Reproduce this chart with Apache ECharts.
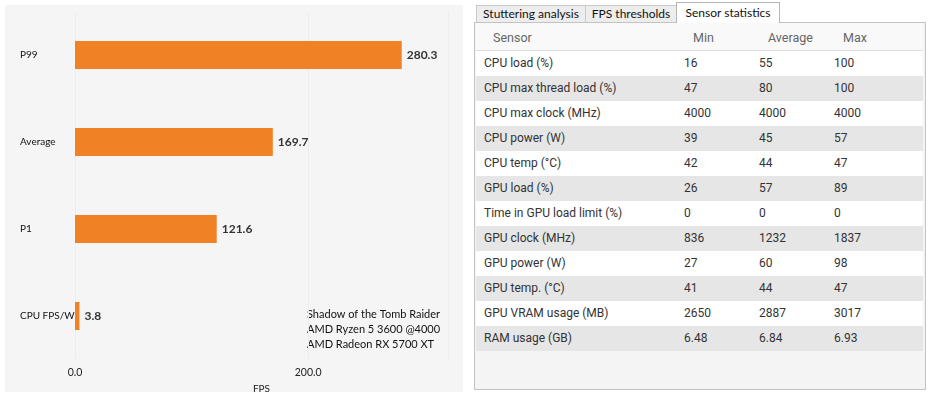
<!DOCTYPE html>
<html>
<head>
<meta charset="utf-8">
<script src="https://cdn.jsdelivr.net/npm/echarts@6/dist/echarts.min.js"></script>
<style>
    body { margin: 0; background: #fff; width: 930px; height: 396px; position: relative; overflow: hidden; }
    #bars { position: absolute; left: 5px; top: 5px; width: 458px; height: 387px; }
    .tab { position: absolute; box-sizing: border-box; border: 1px solid #c9c9c9; border-bottom: none;
           background: #ededed; font: 12px Lato, sans-serif; color: #111; text-align: center; line-height: 16px; }
    .tab.on { background: #fff; border-color: #b5b5b5; z-index: 2; }
    #panel { position: absolute; left: 474px; top: 22px; width: 452px; height: 368px; box-sizing: border-box;
             border: 1px solid #c3c3c3; background: #f4f4f4; font: 12px Roboto, sans-serif; color: #333; }
    .row { position: absolute; left: 1px; width: 447px; height: 25px; line-height: 25px; }
    .row span { position: absolute; top: 0; white-space: nowrap; }
    .hdr { top: 0; height: 27px; line-height: 29px; background: #f9f9f9; border-bottom: 1px solid #dcdcdc; color: #666; font-size: 12.5px; }
</style>
</head>
<body>
<div id="bars"></div>
<div class="tab" style="left:476px;top:5px;width:110px;height:17px;">Stuttering analysis</div>
<div class="tab" style="left:585px;top:5px;width:92px;height:17px;">FPS thresholds</div>
<div class="tab on" style="left:676px;top:2px;width:104px;height:21px;line-height:20px;">Sensor statistics</div>
<div id="panel"></div>
<script>
// bar chart
var metrics = ['P99', 'Average', 'P1', 'CPU FPS/W'];
var fpsValues = [280.3, 169.7, 121.6, 3.8];
var infoLines = ['Shadow of the Tomb Raider', 'AMD Ryzen 5 3600 @4000', 'AMD Radeon RX 5700 XT'];

// sensor table
var tableHeader = ['Sensor', 'Min', 'Average', 'Max'];
var sensors = ['CPU load (%)', 'CPU max thread load (%)', 'CPU max clock (MHz)', 'CPU power (W)',
    'CPU temp (°C)', 'GPU load (%)', 'Time in GPU load limit (%)', 'GPU clock (MHz)',
    'GPU power (W)', 'GPU temp. (°C)', 'GPU VRAM usage (MB)', 'RAM usage (GB)'];
var minValues = ['16', '47', '4000', '39', '42', '26', '0', '836', '27', '41', '2650', '6.48'];
var avgValues = ['55', '80', '4000', '45', '44', '57', '0', '1232', '60', '44', '2887', '6.84'];
var maxValues = ['100', '100', '4000', '57', '47', '89', '0', '1837', '98', '47', '3017', '6.93'];

var myChart = echarts.init(document.getElementById('bars'));
myChart.setOption({
    backgroundColor: '#f5f5f5',
    animation: false,
    textStyle: { fontFamily: 'Lato' },
    grid: { left: 70, right: 15, top: 6.5, bottom: 32.5, outerBoundsMode: 'none' },
    xAxis: {
        type: 'value',
        min: 0,
        max: 320,
        interval: 200,
        name: 'FPS',
        nameLocation: 'middle',
        nameGap: 21,
        nameTextStyle: { color: '#222', fontSize: 10 },
        axisLine: { show: false },
        axisTick: { show: false },
        axisLabel: {
            color: '#222', fontSize: 10.5, margin: 8, showMaxLabel: false,
            formatter: function (v) { return v.toFixed(1); }
        },
        splitLine: { lineStyle: { color: '#ececec' } }
    },
    yAxis: {
        type: 'category',
        data: metrics,
        inverse: true,
        axisLine: { show: false },
        axisTick: { show: false },
        axisLabel: { color: '#111', fontSize: 10, align: 'left', margin: 55 }
    },
    series: [{
        type: 'bar',
        data: fpsValues,
        barWidth: 28,
        itemStyle: { color: '#f08124' },
        label: {
            show: true,
            position: 'right',
            distance: 5,
            color: '#333',
            fontSize: 12,
            fontWeight: 'bold',
            formatter: function (p) { return p.value.toFixed(1); }
        }
    }],
    graphic: [{
        type: 'text',
        left: 302,
        top: 302,
        style: { text: infoLines.join('\n'), fill: '#111', font: '11px Lato', lineHeight: 15 }
    }]
});

// table rows
var panel = document.getElementById('panel');
var cols = [8, 208, 283, 358];
function addRow(cells, top, cls, bg, shift) {
    var r = document.createElement('div');
    r.className = 'row' + (cls ? ' ' + cls : '');
    if (!cls) { r.style.top = top + 'px'; r.style.background = bg; }
    cells.forEach(function (c, i) {
        var s = document.createElement('span');
        s.style.left = (cols[i] + shift) + 'px';
        s.textContent = c;
        r.appendChild(s);
    });
    panel.appendChild(r);
}
addRow(tableHeader, 0, 'hdr', null, 9);
sensors.forEach(function (name, i) {
    addRow([name, minValues[i], avgValues[i], maxValues[i]], 28 + i * 25, null, i % 2 ? '#e6e6e6' : '#ffffff', 0);
});
</script>
</body>
</html>
